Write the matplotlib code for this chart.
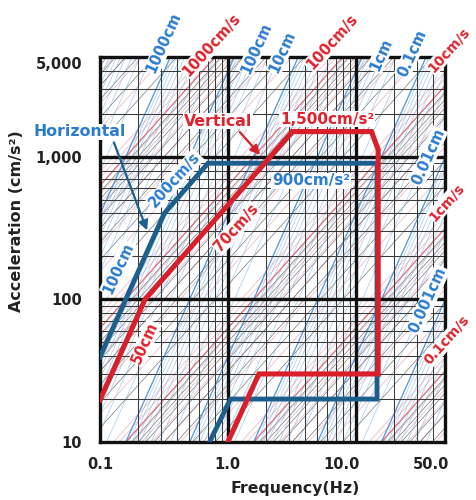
import numpy as np
import matplotlib
matplotlib.use("Agg")
import matplotlib.pyplot as plt
from matplotlib.transforms import ScaledTranslation

plt.rcParams['font.family'] = ['DejaVu Sans']

# response spectrum outlines (frequency Hz, acceleration cm/s^2)
freq_h = [0.1, 0.318, 0.70, 14.7, 14.7, 1.05, 0.72]
acc_h = [39.5, 400, 900, 900, 20, 20, 10]
freq_v = [0.1, 0.225, 3.2, 13.3, 15.0, 15.0, 1.75, 1.0]
acc_v = [19.7, 100, 1500, 1500, 1120, 30, 30, 10]

x_ticks = [0.1, 1.0, 10.0, 50.0]
x_labels = ['0.1', '1.0', '10.0', '50.0']
y_ticks = [10, 100, 1000, 5000]
y_labels = ['10', '100', '1,000', '5,000']

vel_major = [0.1, 1, 10, 100, 1000]           # cm/s
disp_major = [0.001, 0.01, 0.1, 1, 10, 100, 1000]  # cm

BLUE = '#1d5f8c'
RED = '#d9202a'
TBLUE = '#2b7bd0'
TRED = '#e0212b'

W, H = 476, 500
fig = plt.figure(figsize=(W / 100, H / 100), dpi=100)
ax = fig.add_axes([100 / W, 1 - 442 / H, 345 / W, 385 / H])
ax.set_xscale('log')
ax.set_yscale('log')
ax.set_xlim(0.1, 50)
ax.set_ylim(10, 5000)

f = np.logspace(-1.2, 2, 200)
w = 2 * np.pi * f

# tripartite background lines
for k in range(-3, 5):
    for m in range(1, 10):
        v = m * 10.0 ** k
        ax.plot(f, w * v, color='#333333', lw=0.45, alpha=0.7, zorder=1)
        ax.plot(f, w * v * 1.25, color='#e8a0b0', lw=0.7, alpha=0.6, zorder=1)
for k in range(-5, 4):
    for m in range(1, 10):
        d = m * 10.0 ** k
        ax.plot(f, w ** 2 * d, color='#8fbde6', lw=0.5, alpha=0.8, zorder=1)
for v in vel_major:
    ax.plot(f, w * v, color='#e77a88', lw=0.9, zorder=1.2)
for d in disp_major:
    ax.plot(f, w ** 2 * d, color='#5a9ad8', lw=0.9, zorder=1.2)

# frequency / acceleration grid
minor_x = [m * 10.0 ** k for k in (-1, 0, 1) for m in range(2, 10) if m * 10.0 ** k < 50]
minor_y = [m * 10.0 ** k for k in (1, 2, 3) for m in range(2, 10) if m * 10.0 ** k < 5000]
for x in minor_x:
    ax.axvline(x, color='#3a3a3a', lw=0.75, zorder=1.5)
for y in minor_y:
    ax.axhline(y, color='#3a3a3a', lw=0.75, zorder=1.5)
for x in [1.0, 10.0]:
    ax.axvline(x, color='#111111', lw=2.4, zorder=2)
for y in [100, 1000]:
    ax.axhline(y, color='#111111', lw=2.4, zorder=2)

for s in ax.spines.values():
    s.set_linewidth(2.4)
    s.set_color('#111111')

ax.plot(freq_h, acc_h, color=BLUE, lw=3.5, solid_joinstyle='miter', zorder=4)
ax.plot(freq_v, acc_v, color=RED, lw=3.7, solid_joinstyle='miter', zorder=5)

ax.set_xticks(x_ticks)
ax.set_xticklabels(x_labels)
ax.set_yticks(y_ticks)
ax.set_yticklabels(y_labels)
ax.minorticks_off()
ax.tick_params(length=0, labelsize=10.5, colors='#222222')
ax.tick_params(axis='y', pad=13)
ax.tick_params(axis='x', pad=11)
for lab in ax.get_xticklabels() + ax.get_yticklabels():
    lab.set_fontweight('bold')
for lab in ax.get_xticklabels()[2:]:
    lab.set_horizontalalignment('right')
    lab.set_transform(lab.get_transform() + ScaledTranslation(4 / 100, 0, fig.dpi_scale_trans))
top_lab = ax.get_yticklabels()[-1]
top_lab.set_transform(top_lab.get_transform() + ScaledTranslation(0, -6 / 100, fig.dpi_scale_trans))


def px(x, y):
    return x / W, 1 - y / H


def label(x, y, s, color, rot=0, size=10.5):
    fig.text(*px(x, y), s, color=color, rotation=rot, fontsize=size, fontweight='bold',
             ha='center', va='center', rotation_mode='anchor',
             bbox=dict(fc='white', ec='none', pad=0.6))


rd = 65.8  # displacement line angle
rv = 48.1  # velocity line angle

label(164, 43, '1000cm', TBLUE, rd)
label(212, 45, '1000cm/s', TRED, rv)
label(256, 48, '100cm', TBLUE, rd)
label(282, 52, '10cm', TBLUE, rd)
label(332, 42, '100cm/s', TRED, rv)
label(381, 55, '1cm', TBLUE, rd)
label(412, 53, '0.1cm', TBLUE, rd)
label(449, 50, '10cm/s', TRED, rv, 10)
label(428, 157, '0.01cm', TBLUE, rd)
label(447, 202, '1cm/s', TRED, rv, 10)
label(428, 300, '0.001cm', TBLUE, rd)
label(447, 340, '0.1cm/s', TRED, rv, 10)

label(175, 180, '200cm/s', TBLUE, rv)
label(118, 268, '100cm', TBLUE, rd)
label(236, 228, '70cm/s', TRED, rv)
label(145, 343, '50cm', TRED, rd)
label(327, 119, '1,500cm/s²', TRED, 0, 11)
label(311, 181, '900cm/s²', TBLUE, 0, 11)
label(80, 132, 'Horizontal', TBLUE, 0, 11.3)
label(218, 121, 'Vertical', TRED, 0, 11.3)

# arrows for the two annotations
ax.annotate('', xy=px(148, 233), xycoords='figure fraction',
            xytext=px(113, 140), textcoords='figure fraction',
            arrowprops=dict(arrowstyle='-|>', color=BLUE, lw=1.6, mutation_scale=14),
            zorder=7)
ax.annotate('', xy=px(262, 157), xycoords='figure fraction',
            xytext=px(238, 130), textcoords='figure fraction',
            arrowprops=dict(arrowstyle='-|>', color=RED, lw=1.6, mutation_scale=14),
            zorder=7)

fig.text(*px(17, 221), 'Acceleration (cm/s²)', rotation=90, ha='center', va='center',
         fontsize=11.5, fontweight='bold', color='#222222')
fig.text(*px(295, 489), 'Frequency(Hz)', ha='center', va='center',
         fontsize=11.3, fontweight='bold', color='#222222')

fig.savefig('out.png', dpi=100)
